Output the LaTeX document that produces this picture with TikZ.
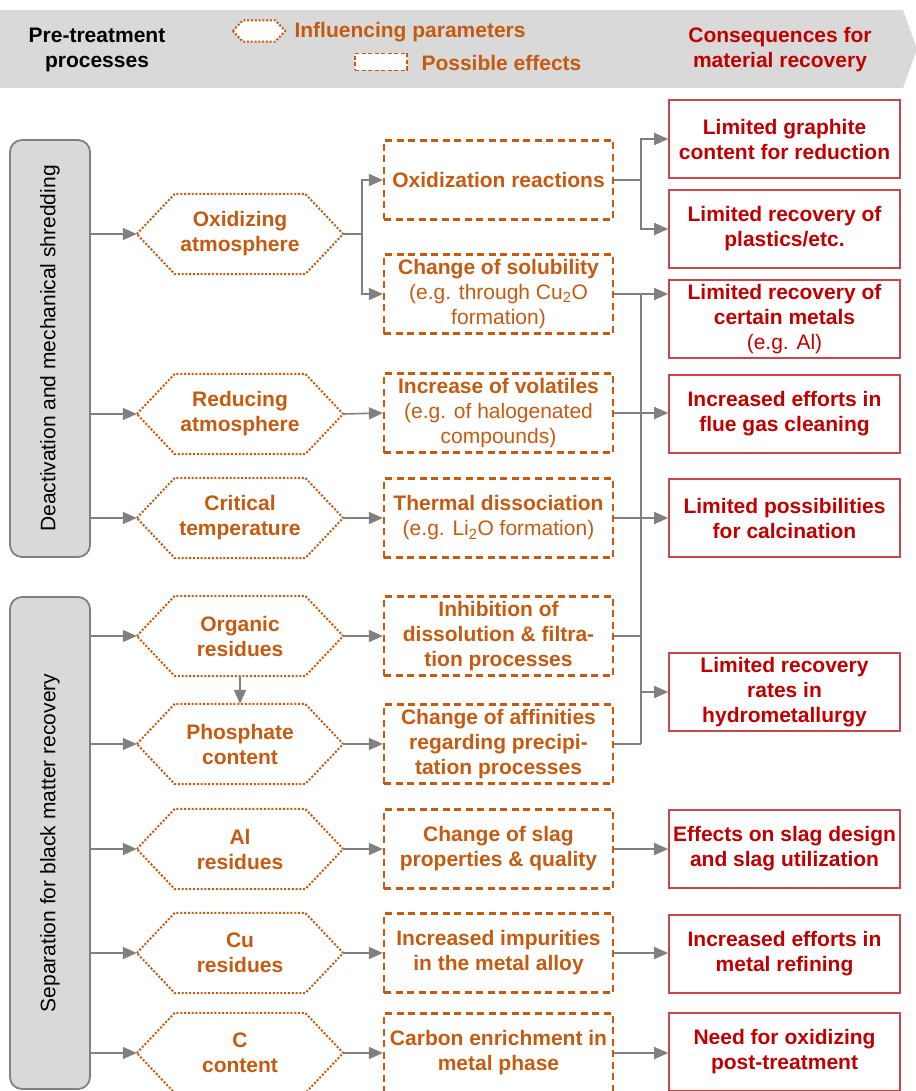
\documentclass[tikz,border=0pt]{standalone}
\usepackage{fontspec}
\setmainfont{Liberation Sans}
\usetikzlibrary{arrows.meta,calc}
\definecolor{orng}{HTML}{C55A11}
\definecolor{dred}{HTML}{C00000}
\definecolor{rbord}{HTML}{C9474C}
\definecolor{gline}{HTML}{808080}
\definecolor{gfill}{HTML}{D9D9D9}
\newcommand\fs{\fontsize{21}{25}\selectfont}
\newcommand\hexoutline[2]{\draw[hexline] (#1.west) -- ([xshift=#2]#1.north west) -- ([xshift=-#2]#1.north east) -- (#1.east) -- ([xshift=-#2]#1.south east) -- ([xshift=#2]#1.south west) -- cycle;}
\begin{document}
\begin{tikzpicture}[x=1pt,y=-1pt,
  every node/.style={font=\fs},
  hexnode/.style={minimum width=206pt, minimum height=80pt, inner sep=0pt, align=center, text=orng, font=\fs\bfseries},
  hexline/.style={draw=orng, fill=white, line width=2pt, dash pattern=on 2pt off 1.8pt},
  effbox/.style={draw=orng, line width=2.2pt, dash pattern=on 7pt off 4.5pt, minimum width=229pt, minimum height=79pt, inner sep=0pt, align=center, text=orng, font=\fs\bfseries},
  consbox/.style={draw=rbord, line width=1.6pt, minimum width=231pt, minimum height=78pt, inner sep=0pt, align=center, text=dred, font=\fs\bfseries},
  procbox/.style={draw=gline, fill=gfill, line width=1.8pt, rounded corners=12pt, minimum width=80pt, inner sep=0pt},
  conn/.style={draw=gline, line width=1.6pt},
  arr/.style={conn, -{Triangle[length=14pt,width=12pt]}},
]
\useasboundingbox (0,0) rectangle (915,1091);
% header band
\fill[gfill] (0,10) -- (903,10) -- (917,49) -- (903,88) -- (0,88) -- cycle;
\node[font=\fs\bfseries, align=center] (hpre) at (97,50) {Pre-treatment\\processes};
\node[minimum width=52pt, minimum height=21pt, inner sep=0pt] (lhex) at (259,31) {};
\hexoutline{lhex}{10pt}
\node[anchor=west, text=orng, font=\fs\bfseries] (linf) at (291,32) {Influencing parameters};
\node[draw=orng, fill=white, line width=1.8pt, dash pattern=on 4pt off 2.5pt, minimum width=52pt, minimum height=17pt, inner sep=0pt] (lrect) at (381,62) {};
\node[anchor=west, text=orng, font=\fs\bfseries] (leff) at (418,63) {Possible effects};
\node[text=dred, font=\fs\bfseries, align=center] (hcons) at (780,50) {Consequences for\\material recovery};

% process boxes
\node[procbox, minimum height=417pt] (gb1) at (50,348.5) {};
\node[rotate=90] (gb1t) at (gb1.center) {Deactivation and mechanical shredding};
\node[procbox, minimum height=492pt] (gb2) at (50,843) {};
\node[rotate=90] (gb2t) at (gb2.center) {Separation for black matter recovery};

% influencing parameters (outlines drawn first, text on top)
\node[hexnode] (ox) at (240,234) {};
\node[hexnode] (red) at (240,414) {};
\node[hexnode] (crit) at (240,518) {};
\node[hexnode] (org) at (240,636) {};
\node[hexnode] (phos) at (240,744) {};
\node[hexnode] (al) at (240,849) {};
\node[hexnode] (cu) at (240,953) {};
\node[hexnode] (cc) at (240,1053) {};
\foreach \n in {ox,red,crit,org,phos,al,cu,cc}{\hexoutline{\n}{38pt}}
\node[hexnode] (oxt) at (ox.center) {Oxidizing\\atmosphere};
\node[hexnode] (redt) at (red.center) {Reducing\\atmosphere};
\node[hexnode] (critt) at (crit.center) {Critical\\temperature};
\node[hexnode] (orgt) at (org.center) {Organic\\residues};
\node[hexnode] (phost) at (phos.center) {Phosphate\\content};
\node[hexnode] (alt) at (al.center) {Al\\residues};
\node[hexnode] (cut) at (cu.center) {Cu\\residues};
\node[hexnode] (cct) at (cc.center) {C\\content};

% possible effects
\node[effbox] (oxr) at (498.5,180) {Oxidization reactions};
\node[effbox] (sol) at (498.5,294) {Change of solubility\\\mdseries(e.g. through Cu\textsubscript{2}O\\\mdseries formation)};
\node[effbox] (vol) at (498.5,413) {Increase of volatiles\\\mdseries(e.g. of halogenated\\\mdseries compounds)};
\node[effbox] (therm) at (498.5,518) {Thermal dissociation\\\mdseries(e.g. Li\textsubscript{2}O formation)};
\node[effbox] (inh) at (498.5,636) {Inhibition of\\dissolution \& filtra-\\tion processes};
\node[effbox] (aff) at (498.5,744) {Change of affinities\\regarding precipi-\\tation processes};
\node[effbox] (slp) at (498.5,849) {Change of slag\\properties \& quality};
\node[effbox] (imp) at (498.5,953) {Increased impurities\\in the metal alloy};
\node[effbox] (carb) at (498.5,1053) {Carbon enrichment in\\metal phase};

% consequences
\node[consbox] (gra) at (784.5,139) {Limited graphite\\content for reduction};
\node[consbox] (pla) at (784.5,229) {Limited recovery of\\plastics/etc.};
\node[consbox] (met) at (784.5,319) {Limited recovery of\\certain metals\\\mdseries(e.g. Al)};
\node[consbox] (flue) at (784.5,414) {Increased efforts in\\flue gas cleaning};
\node[consbox] (calc) at (784.5,518) {Limited possibilities\\for calcination};
\node[consbox] (hyd) at (784.5,692) {Limited recovery\\rates in\\hydrometallurgy};
\node[consbox] (slag) at (784.5,849) {Effects on slag design\\and slag utilization};
\node[consbox] (refn) at (784.5,954) {Increased efforts in\\metal refining};
\node[consbox] (need) at (784.5,1052) {Need for oxidizing\\post-treatment};

% connectors: process -> parameters
\foreach \n in {ox,red,crit}{\draw[arr] (\n.west -| gb1.east) -- (\n.west);}
\foreach \n in {org,phos,al,cu,cc}{\draw[arr] (\n.west -| gb2.east) -- (\n.west);}
\draw[arr] (org.south) -- (phos.north);

% parameters -> effects
\coordinate (ax) at (362,0);
\coordinate (bx) at (641,0);
\draw[conn] (ox.east) -- (ox.east -| ax);
\draw[arr] (ox.east -| ax) |- (oxr.west);
\draw[arr] (ox.east -| ax) |- (sol.west);
\draw[arr] (red.east) -- (vol.west);
\draw[arr] (crit.east) -- (therm.west);
\draw[arr] (org.east) -- (inh.west);
\draw[arr] (phos.east) -- (aff.west);
\draw[arr] (al.east) -- (slp.west);
\draw[arr] (cu.east) -- (imp.west);
\draw[arr] (cc.east) -- (carb.west);

% effects -> consequences
\draw[conn] (oxr.east) -- (oxr.east -| bx);
\draw[arr] (oxr.east -| bx) |- (gra.west);
\draw[arr] (oxr.east -| bx) |- (pla.west);
\draw[arr] (sol.east) -- (sol.east -| met.west);
\draw[conn] (sol.east -| bx) -- (aff.east -| bx);
\draw[conn] (inh.east) -- (inh.east -| bx);
\draw[conn] (aff.east) -- (aff.east -| bx);
\draw[arr] (hyd.west -| bx) -- (hyd.west);
\draw[arr] (vol.east) -- (vol.east -| flue.west);
\draw[arr] (therm.east) -- (therm.east -| calc.west);
\draw[arr] (slp.east) -- (slp.east -| slag.west);
\draw[arr] (imp.east) -- (imp.east -| refn.west);
\draw[arr] (carb.east) -- (carb.east -| need.west);
\end{tikzpicture}
\end{document}
